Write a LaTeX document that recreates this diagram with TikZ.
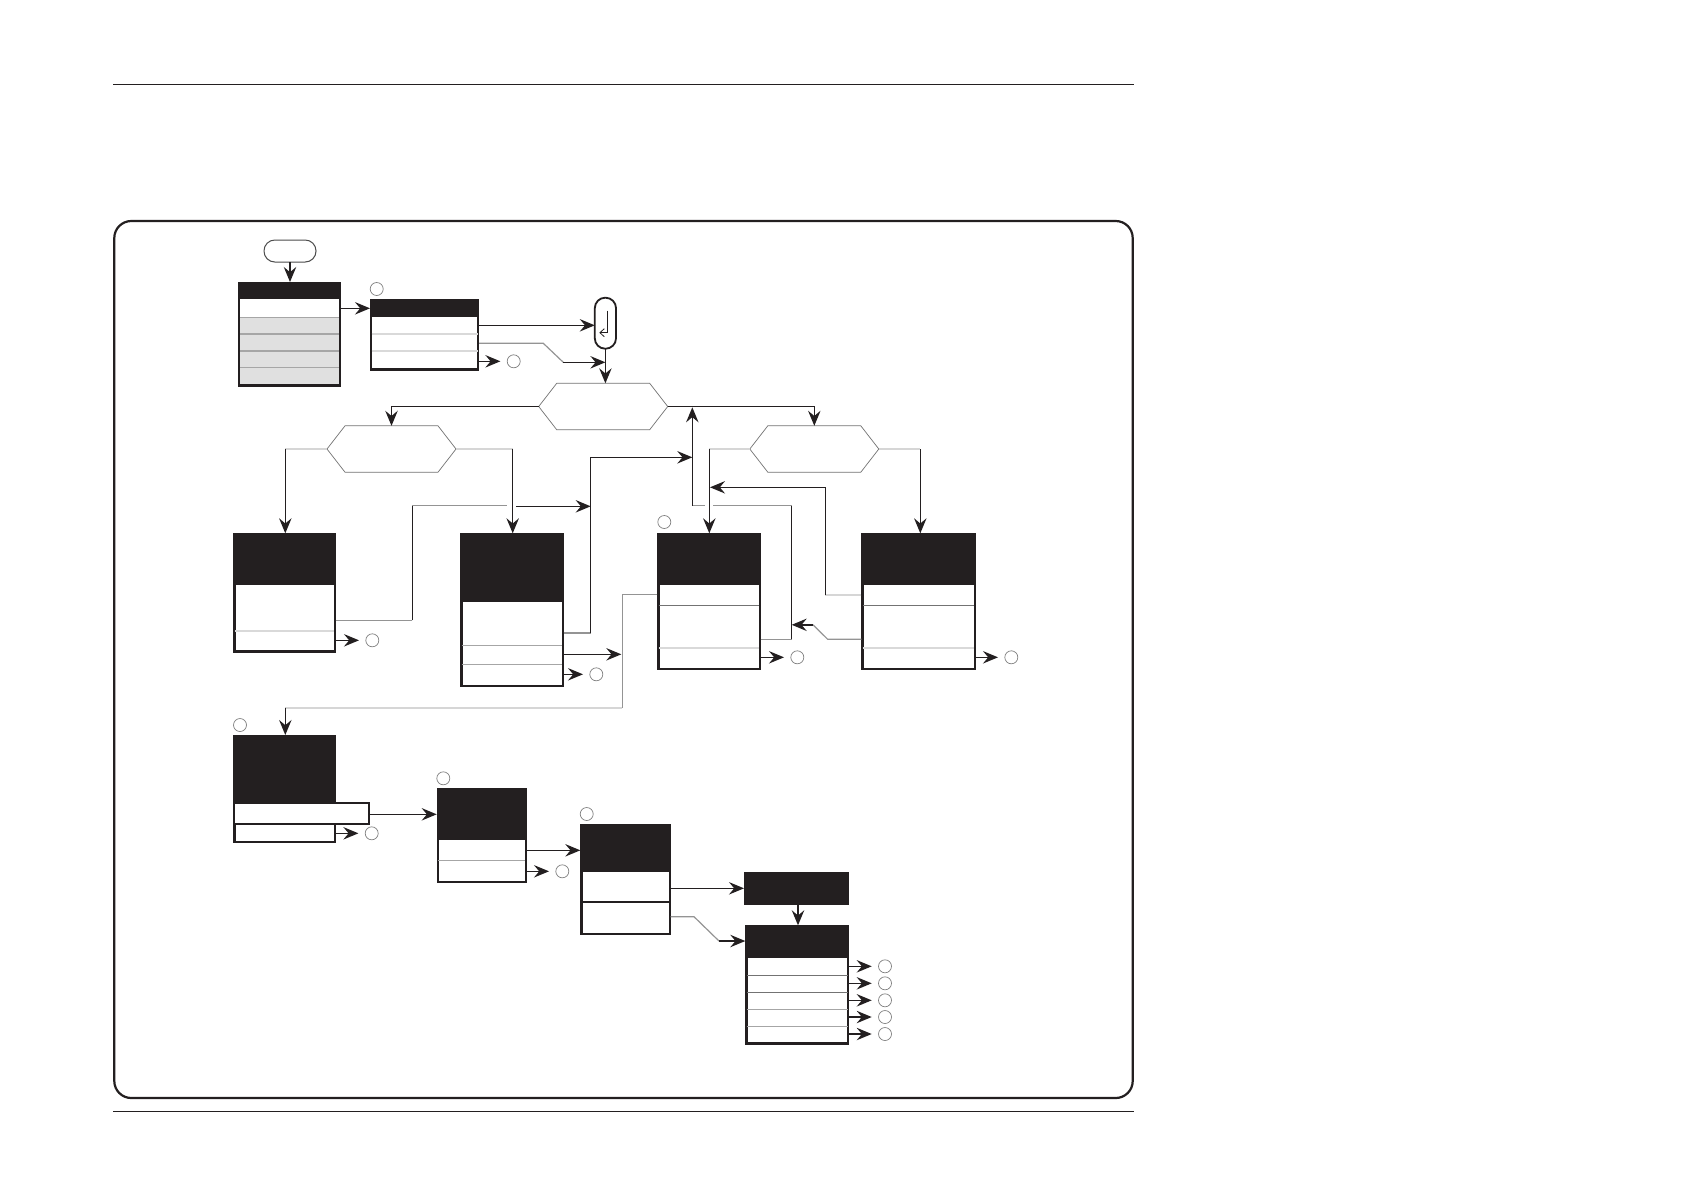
\documentclass[tikz,border=0pt]{standalone}
\usetikzlibrary{arrows.meta}
\definecolor{ink}{HTML}{231F20}
\tikzset{
  arr/.style={draw=ink,line width=0.7pt,-{Stealth[length=7.5pt,width=6.2pt,inset=2.6pt]}},
  blk/.style={draw=ink,line width=0.7pt},
  gm/.style={draw=black!42,line width=0.6pt},
  gl/.style={draw=black!16,line width=1pt},
  boxbody/.style={draw=ink,fill=white,line width=1.1pt,inner sep=0pt},
  hdr/.style={fill=ink,inner sep=0pt,outer sep=0pt},
  rowdark/.style={draw=black!55,line width=0.6pt},
  rowmid/.style={draw=black!35,line width=0.7pt},
  rowlight/.style={draw=black!15,line width=0.9pt},
  circ/.style={circle,draw=black!50,line width=0.35pt,fill=white,minimum size=6.5pt,inner sep=0pt,outer sep=3.4pt},
  hexa/.style={inner sep=0pt,outer sep=0pt,minimum width=64.5pt,minimum height=23.2pt},
  hexline/.style={draw=black!55,line width=0.35pt,line join=miter},
  frameb/.style={draw=ink,line width=1.1pt,rounded corners=8.5pt,inner sep=0pt,outer sep=0pt},
  rule/.style={draw=ink,line width=0.6pt},
}
\newcommand\bx[6]{%
  \pgfmathsetmacro\bw{(#4-#2)*0.5-1.1}%
  \pgfmathsetmacro\bh{(#5-#3+0.5)*0.5-1.1}%
  \pgfmathsetmacro\hw{(#4-#2)*0.5}%
  \pgfmathsetmacro\hh{(#6-#3)*0.5}%
  \node[boxbody,minimum width=\bw pt,minimum height=\bh pt] (#1) at ({(#2+#4)/2},{(#3+#5+0.5)/2}) {};
  \node[hdr,minimum width=\hw pt,minimum height=\hh pt] (#1h) at ({(#2+#4)/2},{(#3+#6)/2}) {};
}
\newcommand\hx[3]{%
  \node[hexa] (#1) at (#2,#3) {};
  \draw[hexline] (#1.west) -- ([xshift=9pt]#1.north west) -- ([xshift=-9pt]#1.north east) -- (#1.east) -- ([xshift=-9pt]#1.south east) -- ([xshift=9pt]#1.south west) -- cycle;
}
\begin{document}
\begin{tikzpicture}[x=0.5pt,y=-0.5pt]
\useasboundingbox (0,0) rectangle (1684,1190);
\fill[white] (0,0) rectangle (1684,1190);
% rules and frame
\coordinate (r1) at (113,84.3); \coordinate (r2) at (1134,84.3);
\coordinate (r3) at (113,1111.7); \coordinate (r4) at (1134,1111.7);
\draw[rule] (r1) -- (r2);
\draw[rule] (r3) -- (r4);
\node[frameb,minimum width=509.2pt,minimum height=438.5pt] (frame) at (623.5,659.5) {};
% start + capsule
\node[draw=black!70,line width=0.5pt,rounded corners=5.4pt,minimum width=26pt,minimum height=11pt,inner sep=0pt,outer sep=0pt] (S) at (290,251) {};
\node[draw=ink,line width=0.9pt,fill=white,rounded corners=5.2pt,minimum width=10.6pt,minimum height=25.5pt,inner sep=0pt,outer sep=0pt] (Cap) at (605.4,323.2) {};
\coordinate (ca) at (607,310.7); \coordinate (cb) at (599.3,332.7);
\draw[draw=ink,line width=0.4pt,-{Straight Barb[length=2.2pt,width=4pt]}] (ca) |- (cb);
% boxes
\bx{A}{238}{282}{341}{386}{299}
\fill[black!12] (240,317.3) rectangle (339,384);
\foreach \y in {317.3,334,351,367.7} \draw[rowmid] (240,\y) -- (339,\y);
\bx{B}{370}{299}{479}{370}{317}
\foreach \y in {334,351} \draw[rowlight] (371.5,\y) -- (477.5,\y);
\bx{C}{233.3}{533.3}{335.7}{652}{584.7}
\draw[rowlight] (234.8,631) -- (334.2,631);
\bx{D}{460.3}{533.3}{563.7}{686.7}{602}
\foreach \y in {645.7,664.7} \draw[rowmid] (461.8,\y) -- (562.2,\y);
\bx{E}{657.3}{533.3}{760.7}{669.3}{584.7}
\draw[rowdark] (658.8,605.3) -- (759.2,605.3);
\draw[rowlight] (658.8,647.7) -- (759.2,647.7);
\bx{G}{861.3}{533.3}{975.7}{669.3}{584.7}
\draw[rowdark] (862.8,605.3) -- (974.2,605.3);
\draw[rowlight] (862.8,647.7) -- (974.2,647.7);
\bx{F}{233.3}{735}{335.7}{842.3}{802.7}
\node[boxbody,line width=0.9pt,minimum width=67.3pt,minimum height=10.2pt] (Fr) at (301.5,813.5) {};
\bx{H}{436.7}{788.3}{526.7}{882.3}{839.7}
\draw[rowmid] (438,860.3) -- (525.4,860.3);
\bx{I}{580.3}{824.3}{670.7}{934.3}{872}
\draw[draw=ink,line width=1.1pt] (581,901.7) -- (670,901.7);
\node[hdr,minimum width=52.5pt,minimum height=16.35pt] (J) at (796.5,888.3) {};
\bx{K}{745.3}{925.3}{849}{1044}{957.7}
\draw[rowdark] (746.8,975.3) -- (847.5,975.3);
\draw[rowdark] (746.8,992.3) -- (847.5,992.3);
\draw[rowmid] (746.8,1009.3) -- (847.5,1009.3);
\draw[rowmid] (746.8,1026.3) -- (847.5,1026.3);
% hexagons
\hx{H1}{603.2}{406.5}
\hx{H2}{391.5}{449}
\hx{H3}{814.3}{449}
% small circles
\node[circ] (c1) at (376.7,289) {};
\node[circ] (c2) at (513.7,361.3) {};
\node[circ] (c3) at (372.3,640.3) {};
\node[circ] (c4) at (596.3,674.3) {};
\node[circ] (c5) at (664.3,522) {};
\node[circ] (c6) at (797.3,657.3) {};
\node[circ] (c7) at (1011.3,657.3) {};
\node[circ] (c8) at (240,725) {};
\node[circ] (c9) at (371.7,833.3) {};
\node[circ] (c10) at (443.3,778.3) {};
\node[circ] (c11) at (562.3,871.3) {};
\node[circ] (c12) at (586.7,814) {};
\node[circ] (k1) at (885,966.3) {};
\node[circ] (k2) at (885,983.3) {};
\node[circ] (k3) at (885,1000.3) {};
\node[circ] (k4) at (885,1017) {};
\node[circ] (k5) at (885,1034) {};
% connection points
\coordinate (n1) at (563.3,362.3);
\coordinate (h2l) at (285.3,449);
\coordinate (h2r) at (512.7,449);
\coordinate (h3l) at (709.3,449);
\coordinate (h3r) at (920.3,449);
\coordinate (dgap) at (516,506.3);
\coordinate (jd) at (590.7,506.3);
\coordinate (db) at (590.7,633);
\coordinate (jup) at (590.7,457.3);
\coordinate (je) at (621.3,654.3);
\coordinate (ej) at (622.3,707.7);
\coordinate (fa) at (285.3,707.7);
\coordinate (jx) at (692.3,505.7);
\coordinate (mtop) at (692.3,407.3);
\coordinate (ex) at (791.7,639.3);
\coordinate (ey) at (791.7,505.7);
\coordinate (gy) at (825.3,595);
\coordinate (gz) at (825.3,487.3);
\coordinate (gtip) at (710,487.3);
\coordinate (g2) at (813,624.8);
\coordinate (etip) at (791.7,624.8);
\coordinate (i2) at (719,941);
\coordinate (jk) at (798,904.7);
% connectors
\draw[arr] (S.south) -- (S.south |- A.north);
\draw[arr] (A.east |- 0,308.3) -- (B.west |- 0,308.3);
\draw[arr] (B.east |- 0,325.3) -- (Cap.west |- 0,325.3);
\draw[gm] (B.east |- 0,343.3) -- (543.3,343.3) -- (n1);
\draw[arr] (n1) -- (Cap.south |- n1);
\draw[arr] (B.east |- c2.west) -- (c2.west);
\draw[arr] (Cap.south) -- (Cap.south |- H1.north);
\draw[arr,line width=0.55pt] (H1.west) -| (H2.north);
\draw[arr,line width=0.55pt] (H1.east) -| (H3.north);
\draw[gl] (H2.west) -- (h2l);
\draw[arr] (h2l) -- (h2l |- C.north);
\draw[gl] (H2.east) -- (h2r);
\draw[arr] (h2r) -- (h2r |- D.north);
\draw[gl] (H3.west) -- (h3l);
\draw[arr] (h3l) -- (h3l |- E.north);
\draw[gl] (H3.east) -- (h3r);
\draw[arr] (h3r) -- (h3r |- G.north);
\draw[gm] (C.east |- 0,620.3) -- (412.3,620.3);
\draw[blk] (412.3,620.3) -- (412.3,505.7);
\draw[gm] (412.3,505.7) -- (507.3,505.7);
\draw[arr] (dgap) -- (jd);
\draw[arr] (C.east |- c3.west) -- (c3.west);
\draw[gm] (D.east |- db) -- (db);
\draw[arr] (db) -- (jup) -- (mtop |- jup);
\draw[arr] (D.east |- je) -- (je);
\draw[arr] (D.east |- c4.west) -- (c4.west);
\draw[gm] (E.west |- 0,594.7) -- (622.3,594.7) -- (ej);
\draw[gl] (ej) -- (fa);
\draw[arr] (fa) -- (fa |- F.north);
\draw[gm] (E.east |- ex) -- (ex);
\draw[blk] (ex) -- (ey);
\draw[gm] (ey) -- (713.3,505.7);
\draw[gm] (705,505.7) -- (jx);
\draw[arr] (jx) -- (mtop);
\draw[gl] (G.west |- gy) -- (gy);
\draw[arr] (gy) -- (gz) -- (gtip);
\draw[gm] (G.west |- 0,639.3) -- (827.7,639.3) -- (g2);
\draw[arr] (g2) -- (etip);
\draw[arr] (E.east |- c6.west) -- (c6.west);
\draw[arr] (G.east |- c7.west) -- (c7.west);
\draw[arr] (Fr.east |- 0,814.3) -- (H.west |- 0,814.3);
\draw[arr] (F.east |- c9.west) -- (c9.west);
\draw[arr] (H.east |- 0,850.3) -- (I.west |- 0,850.3);
\draw[arr] (H.east |- c11.west) -- (c11.west);
\draw[arr] (I.east |- J.west) -- (J.west);
\draw[gm] (I.east |- 0,916.7) -- (694,916.7) -- (i2);
\draw[arr] (i2) -- (K.west |- i2);
\draw[arr] (jk) -- (jk |- K.north);
\foreach \k in {k1,k2,k3,k4,k5} \draw[arr] (K.east |- \k.west) -- (\k.west);
\end{tikzpicture}
\end{document}
